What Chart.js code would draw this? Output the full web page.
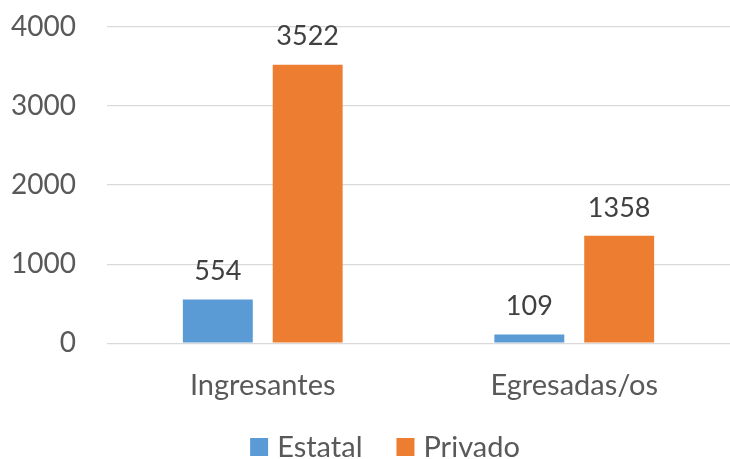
<!DOCTYPE html>
<html>
<head>
<meta charset="utf-8">
<script src="https://cdn.jsdelivr.net/npm/chart.js@4/dist/chart.umd.min.js"></script>
<style>
  html, body { margin: 0; padding: 0; background: #fff; }
  #wrap { width: 730px; height: 459px; }
</style>
</head>
<body>
<div id="wrap"><canvas id="chart" width="730" height="459"></canvas></div>
<script>
// categories and series
const categories = ["Ingresantes", "Egresadas/os"];
const estatal = [554, 109];
const privado = [3522, 1358];
const seriesNames = ["Estatal", "Privado"];
const yTicks = [0, 1000, 2000, 3000, 4000];

const fontFamily = "Lato, 'Open Sans', sans-serif";

// draw the value above each bar
const valueLabels = {
    id: "valueLabels",
    afterDatasetsDraw(chart) {
        const ctx = chart.ctx;
        ctx.save();
        ctx.font = "27px " + fontFamily;
        ctx.fillStyle = "#404040";
        ctx.textAlign = "center";
        ctx.textBaseline = "middle";
        chart.data.datasets.forEach((ds, i) => {
            const meta = chart.getDatasetMeta(i);
            meta.data.forEach((bar, j) => {
                ctx.fillText(ds.data[j], bar.x, bar.y - 28);
            });
        });
        ctx.restore();
    }
};

// legend under the chart, spaced like the original
const bottomLegend = {
    id: "bottomLegend",
    afterDraw(chart) {
        const ctx = chart.ctx;
        const box = 18, gapText = 9, gapItem = 34;
        ctx.save();
        ctx.font = "29px " + fontFamily;
        ctx.textBaseline = "middle";
        const items = chart.data.datasets.map(ds => ({
            text: ds.label, color: ds.backgroundColor, w: ctx.measureText(ds.label).width
        }));
        let total = 0;
        items.forEach((it, i) => { total += box + gapText + it.w + (i ? gapItem : 0); });
        let x = chart.width / 2 + 20 - total / 2;
        const y = 447;
        items.forEach(it => {
            ctx.fillStyle = it.color;
            ctx.fillRect(x, y - box / 2, box, box);
            ctx.fillStyle = "#595959";
            ctx.fillText(it.text, x + box + gapText, y + 1);
            x += box + gapText + it.w + gapItem;
        });
        ctx.restore();
    }
};

const context = document.getElementById("chart").getContext("2d");
const chart = new Chart(context, {
    type: "bar",
    data: {
        labels: categories,
        datasets: [{
            label: seriesNames[0],
            data: estatal,
            backgroundColor: "#5b9bd5",
            categoryPercentage: 0.577,
            barPercentage: 0.778
        }, {
            label: seriesNames[1],
            data: privado,
            backgroundColor: "#ed7d31",
            categoryPercentage: 0.577,
            barPercentage: 0.778
        }]
    },
    options: {
        responsive: false,
        animation: false,
        layout: { padding: { top: 27, right: -3, left: 0, bottom: 31 } },
        plugins: {
            legend: { display: false },
            tooltip: { enabled: false }
        },
        scales: {
            x: {
                grid: { display: false, drawTicks: false },
                border: { display: false },
                ticks: {
                    color: "#595959",
                    padding: 25,
                    font: { family: fontFamily, size: 29 }
                }
            },
            y: {
                min: 0,
                max: 4000,
                afterBuildTicks(scale) {
                    scale.ticks = yTicks.map(v => ({ value: v }));
                },
                afterFit(scale) {
                    scale.width = 107;
                    scale.paddingTop = 0;
                    scale.paddingBottom = 0;
                },
                grid: { color: "#d9d9d9", lineWidth: 1.3, drawTicks: false },
                border: { display: false },
                ticks: {
                    color: "#595959",
                    padding: 31,
                    font: { family: fontFamily, size: 28 },
                    callback: v => String(v)
                }
            }
        }
    },
    plugins: [valueLabels, bottomLegend]
});
</script>
</body>
</html>
